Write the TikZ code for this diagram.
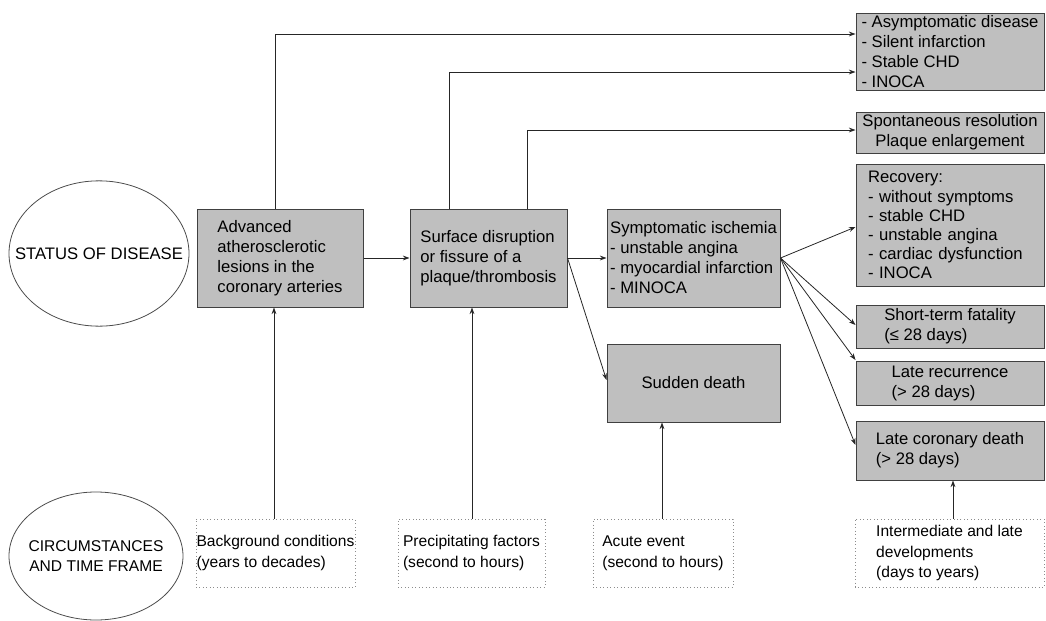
\documentclass[tikz,border=0pt]{standalone}
\usepackage{fontspec}
\setmainfont{Liberation Sans}
\usetikzlibrary{arrows.meta,shapes.geometric}
\begin{document}
\begin{tikzpicture}[x=0.75pt,y=-0.75pt,
  every node/.style={font=\fontsize{12.5}{15}\selectfont},
  smalltext/.style={font=\fontsize{11.7}{15.5}\selectfont},
  gbox/.style={draw=black!75, fill=black!25, line width=0.75pt, inner sep=0pt, align=left},
  dbox/.style={draw=black!45, dotted, line width=0.6pt, inner sep=0pt, align=left, smalltext},
  oval/.style={draw=black!70, line width=0.6pt, ellipse, inner sep=0pt},
  ovaltext/.style={inner sep=0pt, align=center},
  conn/.style={draw=black!85, line width=0.6pt, -{Stealth[length=5pt,width=3.6pt]}},
]
\useasboundingbox (0,0) rectangle (1046,621);

% ellipses
\node[oval, minimum width=135pt, minimum height=109pt] (S) at (99,253.5) {};
\node[ovaltext] (Stext) at (S.center) {STATUS OF DISEASE};
\node[oval, minimum width=130.5pt, minimum height=96pt] (T) at (96,556) {};
\node[ovaltext, smalltext] (Ttext) at (T.center) {CIRCUMSTANCES\\AND TIME FRAME};

% main boxes
\node[gbox, minimum width=124.5pt, minimum height=73.5pt] (A) at (280,258)
  {Advanced\\atherosclerotic\\lesions in the\\coronary arteries};
\node[gbox, minimum width=117.75pt, minimum height=73.5pt] (B) at (488.5,258)
  {Surface disruption\\or fissure of a\\plaque/thrombosis};
\node[gbox, minimum width=129.75pt, minimum height=73.5pt] (C) at (693.5,258)
  {Symptomatic ischemia\\- unstable angina\\- myocardial infarction\\- MINOCA};
\node[gbox, minimum width=129.75pt, minimum height=58.5pt, align=center] (D) at (693.5,383)
  {Sudden death};

% right boxes
\node[gbox, minimum width=141pt, minimum height=57.75pt] (E) at (950,51.5)
  {- Asymptomatic disease\\- Silent infarction\\- Stable CHD\\- INOCA};
\node[gbox, minimum width=141pt, minimum height=30.75pt, align=center] (F) at (950,132.5)
  {Spontaneous resolution\\Plaque enlargement};
\node[gbox, minimum width=141pt, minimum height=91.5pt, inner xsep=9pt, text width=123pt,
  font=\fontsize{12.5}{14.3}\selectfont] (G) at (950,225)
  {Recovery:\\- without symptoms\\- stable CHD\\- unstable angina\\- cardiac dysfunction\\- INOCA};
\node[gbox, minimum width=141pt, minimum height=32.25pt] (H) at (950,326.5)
  {Short-term fatality\\(≤ 28 days)};
\node[gbox, minimum width=141pt, minimum height=33pt] (I) at (950,383)
  {Late recurrence\\(> 28 days)};
\node[gbox, minimum width=141pt, minimum height=44.25pt] (J) at (950,450.5)
  {Late coronary death\\(> 28 days)};

% bottom dotted boxes
\node[dbox, minimum width=119.25pt, minimum height=51pt] (K) at (275.5,553)
  {Background conditions\\(years to decades)};
\node[dbox, minimum width=110.25pt, minimum height=51pt] (L) at (471.5,553)
  {Precipitating factors\\(second to hours)};
\node[dbox, minimum width=105pt, minimum height=51pt] (M) at (663,553)
  {Acute event\\(second to hours)};
\node[dbox, minimum width=141.75pt, minimum height=51pt] (N) at (949.5,553)
  {Intermediate and late\\developments\\(days to years)};

% connectors
\draw[conn] (A.north -| 275,0) |- (E.west |- 0,34);
\draw[conn] (B.north -| 449,0) |- (E.west |- 0,72);
\draw[conn] (B.north -| 527,0) |- (F.west |- 0,130);
\draw[conn] (A.east) -- (B.west);
\draw[conn] (B.east) -- (C.west);
\draw[conn] (B.east) -- (D.west |- 0,380);
\draw[conn] (C.east) -- (G.west |- 0,227);
\draw[conn] (C.east) -- (H.west |- 0,325);
\draw[conn] (C.east) -- (I.west |- 0,360);
\draw[conn] (C.east) -- (J.west |- 0,445);
\draw[conn] (K.north -| 274,0) -- (A.south -| 274,0);
\draw[conn] (L.north -| 472,0) -- (B.south -| 472,0);
\draw[conn] (M.north -| 662,0) -- (D.south -| 662,0);
\draw[conn] (N.north -| 953,0) -- (J.south -| 953,0);
\end{tikzpicture}
\end{document}
